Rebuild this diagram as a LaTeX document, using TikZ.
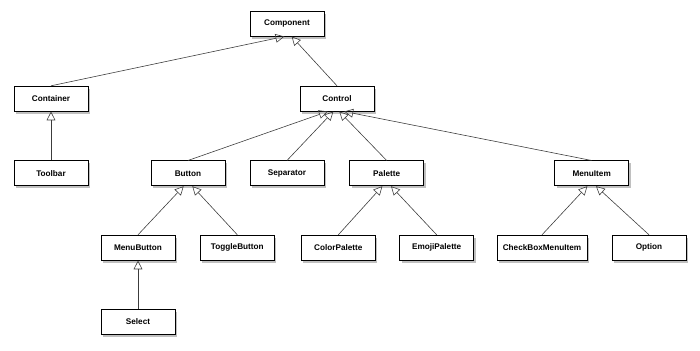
\documentclass[tikz,border=0pt]{standalone}
\usepackage{fontspec}
\usepackage{xcolor}
\usepackage{tikz}
\usetikzlibrary{arrows.meta, positioning, shadows}
\newfontfamily\umlfont{Liberation Sans}
\definecolor{UmlLine}{RGB}{60, 60, 60}
\definecolor{UmlShadow}{RGB}{150, 150, 150}

\begin{document}
\begin{tikzpicture}[
  cls/.style={draw=black, fill=white, line width=0.6pt,
    minimum width=2.22cm, minimum height=0.75cm, inner sep=1pt,
    drop shadow={shadow xshift=0.06cm, shadow yshift=-0.08cm, fill=UmlShadow, opacity=0.6},
    font=\umlfont\bfseries\fontsize{7}{8}\selectfont},
  isa/.style={-{Triangle[open, length=7.5pt, width=7.5pt]}, UmlLine, line width=0.5pt}
]
\useasboundingbox (0,0) rectangle (21,10.53);
\node[cls] (component) at (8.61,9.82)  {Component};
\node[cls] (container) at (1.53,7.57)  {Container};
\node[cls] (control)   at (10.11,7.57) {Control};
\node[cls] (toolbar)   at (1.53,5.33)  {Toolbar};
\node[cls] (button)    at (5.64,5.33)  {Button};
\node[cls] (separator) at (8.61,5.33)  {Separator};
\node[cls] (palette)   at (11.6,5.33)  {Palette};
\node[cls] (menuitem)  at (17.75,5.33) {MenuItem};
\node[cls] (menubutton)   at (4.14,3.1)  {MenuButton};
\node[cls] (togglebutton) at (7.12,3.1)  {ToggleButton};
\node[cls] (colorpalette) at (10.15,3.1) {ColorPalette};
\node[cls] (emojipalette) at (13.1,3.1)  {EmojiPalette};
\node[cls, minimum width=2.7cm] (checkbox) at (16.26,3.1) {CheckBoxMenuItem};
\node[cls] (option)    at (19.47,3.1)  {Option};
\node[cls] (select)    at (4.14,0.88)  {Select};
\draw[isa] (container.north) -- ([xshift=-0.08cm]component.south);
\draw[isa] (control.north) -- ([xshift=0.14cm]component.south);
\draw[isa] (toolbar.north) -- (container.south);
\draw[isa] (button.north) -- ([xshift=-0.28cm]control.south);
\draw[isa] (separator.north) -- ([xshift=-0.11cm]control.south);
\draw[isa] (palette.north) -- ([xshift=0.07cm]control.south);
\draw[isa] (menuitem.north) -- ([xshift=0.22cm]control.south);
\draw[isa] (menubutton.north) -- ([xshift=-0.13cm]button.south);
\draw[isa] (togglebutton.north) -- ([xshift=0.13cm]button.south);
\draw[isa] (colorpalette.north) -- ([xshift=-0.13cm]palette.south);
\draw[isa] (emojipalette.north) -- ([xshift=0.13cm]palette.south);
\draw[isa] (checkbox.north) -- ([xshift=-0.13cm]menuitem.south);
\draw[isa] (option.north) -- ([xshift=0.13cm]menuitem.south);
\draw[isa] (select.north) -- (menubutton.south);
\end{tikzpicture}
\end{document}
